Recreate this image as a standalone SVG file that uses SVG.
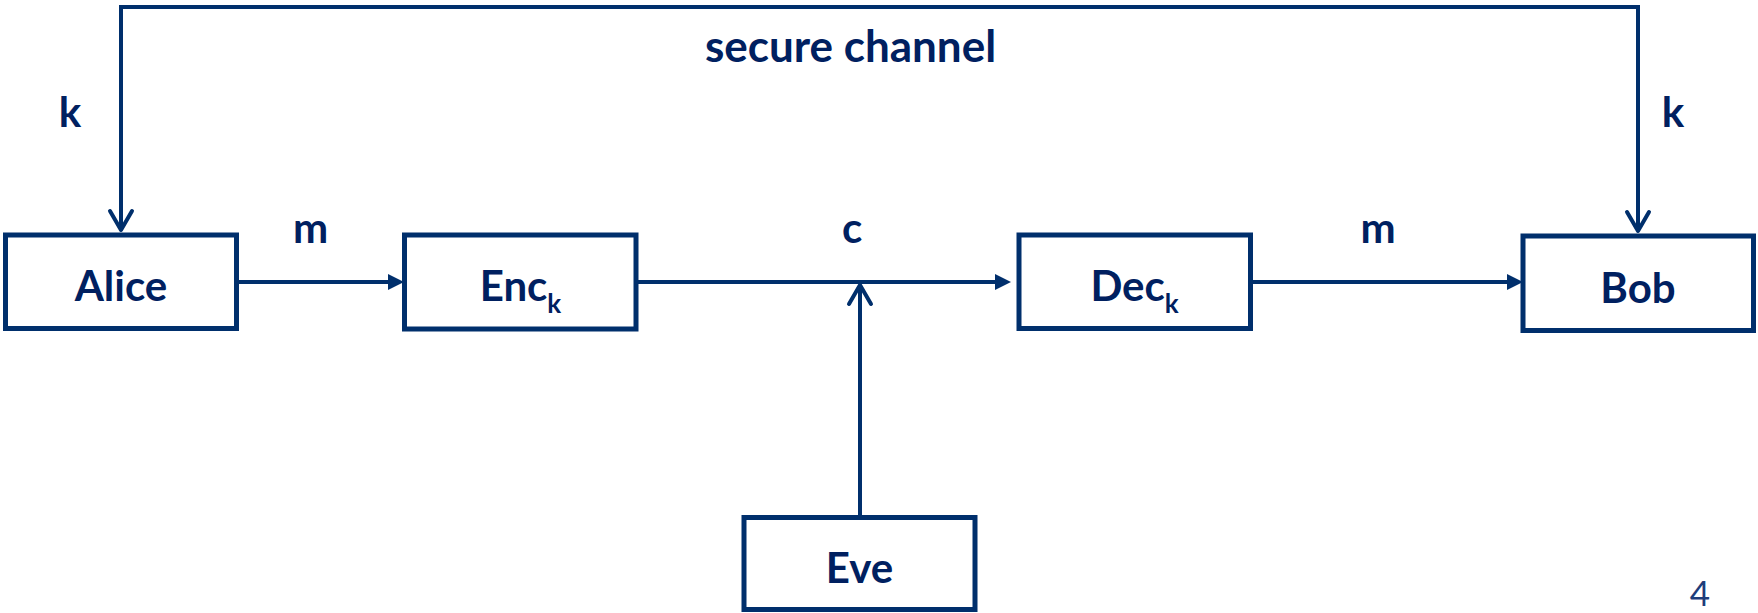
<svg xmlns="http://www.w3.org/2000/svg" width="1758" height="613" viewBox="0 0 1758 613">
  <style>
    .box { fill: #ffffff; stroke: #002F6C; stroke-width: 5; }
    .wire { fill: none; stroke: #002F6C; stroke-width: 4; }
    .name { font-family: Lato, "Liberation Sans", sans-serif; font-weight: bold; font-size: 42px; fill: #002060; text-anchor: middle; }
    .lbl { font-family: Lato, "Liberation Sans", sans-serif; font-weight: bold; font-size: 42px; fill: #002060; text-anchor: middle; }
    .title { font-size: 44px; }
    .sub { font-size: 26px; }
    .page { font-family: Lato, "Liberation Sans", sans-serif; font-size: 35px; fill: #1F3D7A; text-anchor: middle; }
  </style>
  <defs>
    <!-- solid triangle head for the data path -->
    <marker id="tri" markerUnits="userSpaceOnUse" markerWidth="16" markerHeight="16" viewBox="0 0 14 14" refX="0" refY="7" orient="auto" overflow="visible">
      <path d="M0,0 L14,7 L0,14 z" fill="#002F6C"/>
    </marker>
    <!-- open chevron head for key delivery and tapping -->
    <marker id="chev" markerUnits="userSpaceOnUse" markerWidth="30" markerHeight="30" viewBox="-25 -15 30 30" refX="0" refY="0" orient="auto" overflow="visible">
      <path d="M-19,-11 L0,0 L-19,11" fill="none" stroke="#002F6C" stroke-width="4" stroke-linecap="round" stroke-linejoin="round"/>
    </marker>
  </defs>

  <rect width="1758" height="613" fill="#ffffff"/>

  <g id="connectors">
    <!-- key distribution over the secure channel -->
    <path class="wire" d="M880,7 H121 V230" marker-end="url(#chev)"/>
    <path class="wire" d="M860,7 H1638 V231" marker-end="url(#chev)"/>
    <!-- message / ciphertext path -->
    <path class="wire" d="M239,282 H388" marker-end="url(#tri)"/>
    <path class="wire" d="M638,282 H995" marker-end="url(#tri)"/>
    <path class="wire" d="M1253,282 H1507" marker-end="url(#tri)"/>
    <!-- eavesdropper tap -->
    <path class="wire" d="M860,515 V285" marker-end="url(#chev)"/>
  </g>

  <g id="labels">
    <text class="lbl title" x="850.5" y="62">secure channel</text>
    <text class="lbl" x="70" y="127">k</text>
    <text class="lbl" x="1673" y="127">k</text>
    <text class="lbl" x="310.5" y="243">m</text>
    <text class="lbl" x="852" y="243">c</text>
    <text class="lbl" x="1378" y="243">m</text>
  </g>

  <g id="alice">
    <rect class="box" x="5.5" y="235" width="231" height="93.5"/>
    <text class="name" x="121" y="301">Alice</text>
  </g>

  <g id="enc">
    <rect class="box" x="404.5" y="235" width="231.5" height="94"/>
    <text class="name" x="520.5" y="301">Enc<tspan class="sub" dy="12">k</tspan></text>
  </g>

  <g id="dec">
    <rect class="box" x="1019" y="235" width="231.5" height="93.5"/>
    <text class="name" x="1134.5" y="301">Dec<tspan class="sub" dy="12">k</tspan></text>
  </g>

  <g id="bob">
    <rect class="box" x="1523" y="236" width="230.5" height="94.5"/>
    <text class="name" x="1638" y="303">Bob</text>
  </g>

  <g id="eve">
    <rect class="box" x="744" y="517.5" width="231" height="92"/>
    <text class="name" x="859.5" y="583">Eve</text>
  </g>

  <text class="page" x="1700" y="606">4</text>
</svg>
